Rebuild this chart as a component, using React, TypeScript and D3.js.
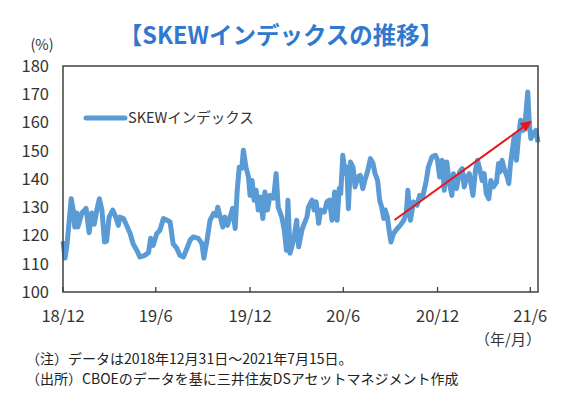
import React, { useEffect, useRef } from 'react';
import * as d3 from 'd3';

// SKEW index (2018/12/31 - 2021/7/15)
const dates = [
  '2018-12-31', '2019-01-04', '2019-01-08', '2019-01-16', '2019-01-20', '2019-01-23', '2019-01-27', '2019-01-29',
  '2019-02-06', '2019-02-14', '2019-02-20', '2019-02-25', '2019-03-02', '2019-03-07', '2019-03-12', '2019-03-17',
  '2019-03-22', '2019-03-26', '2019-03-31', '2019-04-07', '2019-04-12', '2019-04-18', '2019-04-21', '2019-04-28',
  '2019-05-04', '2019-05-11', '2019-05-17', '2019-05-24', '2019-05-30', '2019-06-09', '2019-06-16', '2019-06-20',
  '2019-06-25', '2019-07-02', '2019-07-08', '2019-07-15', '2019-07-22', '2019-07-28', '2019-08-03', '2019-08-10',
  '2019-08-16', '2019-08-23', '2019-08-30', '2019-09-05', '2019-09-11', '2019-09-21', '2019-09-28', '2019-10-02',
  '2019-10-08', '2019-10-14', '2019-10-21', '2019-10-26', '2019-10-29', '2019-11-03', '2019-11-08', '2019-11-12',
  '2019-11-17', '2019-11-22', '2019-11-27', '2019-12-02', '2019-12-06', '2019-12-10', '2019-12-15', '2019-12-18',
  '2019-12-23', '2019-12-28', '2019-12-31', '2020-01-04', '2020-01-08', '2020-01-12', '2020-01-16', '2020-01-20',
  '2020-01-25', '2020-01-29', '2020-02-03', '2020-02-08', '2020-02-15', '2020-02-20', '2020-02-24', '2020-03-02',
  '2020-03-07', '2020-03-11', '2020-03-14', '2020-03-18', '2020-03-25', '2020-03-31', '2020-04-04', '2020-04-10',
  '2020-04-15', '2020-04-20', '2020-04-23', '2020-04-30', '2020-05-04', '2020-05-08', '2020-05-13', '2020-05-17',
  '2020-05-24', '2020-05-29', '2020-06-03', '2020-06-08', '2020-06-13', '2020-06-18', '2020-06-22', '2020-06-25',
  '2020-06-29', '2020-07-04', '2020-07-07', '2020-07-10', '2020-07-14', '2020-07-19', '2020-07-23', '2020-07-28',
  '2020-08-02', '2020-08-07', '2020-08-12', '2020-08-17', '2020-08-22', '2020-08-27', '2020-08-31', '2020-09-05',
  '2020-09-09', '2020-09-13', '2020-09-17', '2020-09-20', '2020-09-24', '2020-09-28', '2020-10-01', '2020-10-06',
  '2020-10-13', '2020-10-19', '2020-10-26', '2020-10-31', '2020-11-03', '2020-11-08', '2020-11-14', '2020-11-21',
  '2020-11-26', '2020-12-02', '2020-12-09', '2020-12-13', '2020-12-20', '2020-12-27', '2020-12-31', '2021-01-04',
  '2021-01-09', '2021-01-13', '2021-01-18', '2021-01-23', '2021-01-28', '2021-01-31', '2021-02-06', '2021-02-12',
  '2021-02-17', '2021-02-21', '2021-02-26', '2021-03-03', '2021-03-10', '2021-03-15', '2021-03-19', '2021-03-23',
  '2021-03-28', '2021-04-01', '2021-04-05', '2021-04-10', '2021-04-14', '2021-04-19', '2021-04-25', '2021-04-29',
  '2021-05-02', '2021-05-06', '2021-05-10', '2021-05-16', '2021-05-19', '2021-05-22', '2021-05-25', '2021-05-30',
  '2021-06-03', '2021-06-07', '2021-06-11', '2021-06-16', '2021-06-20', '2021-06-25', '2021-06-28', '2021-07-01',
  '2021-07-06', '2021-07-11', '2021-07-15',
];

const skew = [
  118, 112, 117, 133, 129, 123, 128, 123,
  128, 129.6, 121, 128, 124, 129, 133, 129,
  117.7, 118, 126.5, 129, 127, 123.6, 126.5, 126,
  123.6, 120.7, 117, 114.8, 112.4, 113, 114, 119,
  116.5, 120.7, 121.8, 126, 125.4, 124.8, 117, 115.5,
  113, 112.4, 115.5, 118.3, 119.5, 119, 117.2, 112,
  118.3, 125.4, 127.8, 127, 130, 126.5, 123, 126.5,
  123.6, 126.5, 129.6, 122.5, 136, 144.2, 143.8, 150.2,
  144.2, 140.7, 134.2, 139.5, 132.5, 136, 129, 133.6,
  126, 135.4, 129, 134.2, 133.2, 141.9, 130, 126.5,
  121.8, 114.8, 132.5, 113.7, 118.3, 125.4, 116, 121.8,
  124.3, 126.5, 130, 132.5, 129, 131.9, 124.3, 129,
  128.3, 131.9, 132.5, 125.4, 135.4, 125.4, 136.6, 134.8,
  148.4, 141.9, 144.2, 129.5, 146, 144.2, 137.2, 140.7,
  141.3, 136.6, 140.1, 143.1, 147.2, 145.5, 141.9, 139.5,
  132.5, 130, 126, 129, 126.5, 121.2, 117.7, 120.7,
  122.4, 123.6, 125.4, 127.8, 136, 125.4, 131.9, 130.7,
  134.2, 133.6, 139.5, 144.2, 147.8, 148.4, 146.6, 140.7,
  146.6, 136, 146, 138.4, 134.2, 141.9, 136.6, 142.5,
  143.7, 137.2, 140.7, 141.9, 134.2, 143.1, 146.6, 143.7,
  139.5, 141.9, 134.8, 133, 139.5, 137.2, 138.9, 145.5,
  142.5, 146.6, 143.7, 140.7, 138.4, 144.8, 149, 155.5,
  146.6, 154.9, 160.8, 157.2, 160.2, 170.8, 159.6, 154.3,
  156.1, 157.2, 153,
];

const yTicks = [100, 110, 120, 130, 140, 150, 160, 170, 180];
const xTickDates = ['2018-12-31', '2019-06-30', '2019-12-31', '2020-06-30', '2020-12-31', '2021-06-30'];
const xTickLabels = ['18/12', '19/6', '19/12', '20/6', '20/12', '21/6'];

// trend arrow drawn on the chart
const arrowFrom = { date: '2020-10-08', value: 125.5 };
const arrowTo = { date: '2021-07-01', value: 160.3 };

const titleText = '【SKEWインデックスの推移】';
const legendText = 'SKEWインデックス';
const notes = [
  '（注）データは2018年12月31日～2021年7月15日。',
  '（出所）CBOEのデータを基に三井住友DSアセットマネジメント作成',
];

const W = 562;
const H = 398;
const JP = '"Meiryo", "Noto Sans CJK JP", "Noto Sans", sans-serif';

export default function App() {
  const svgRef = useRef<SVGSVGElement>(null);

  useEffect(() => {
    if (!svgRef.current) return;
    const svg = d3.select(svgRef.current);
    svg.selectAll('*').remove();

    const margin = { top: 66, right: 24, bottom: 106, left: 63 };
    const cw = W - margin.left - margin.right;
    const ch = H - margin.top - margin.bottom;
    const parse = d3.timeParse('%Y-%m-%d');
    const data = dates.map((d, i) => ({ date: parse(d)!, value: skew[i] }));

    const x = d3.scaleTime()
      .domain([parse(dates[0])!, parse(dates[dates.length - 1])!])
      .range([0, cw]);
    const y = d3.scaleLinear().domain([100, 180]).range([ch, 0]);

    // title
    svg.append('text')
      .attr('x', W / 2).attr('y', 44)
      .attr('text-anchor', 'middle')
      .attr('font-family', JP).attr('font-weight', 'bold')
      .attr('font-size', 23.5).attr('fill', '#3079cf')
      .text(titleText);

    svg.append('text')
      .attr('x', 42).attr('y', 50)
      .attr('text-anchor', 'middle')
      .attr('font-family', JP).attr('font-size', 14.5).attr('fill', '#333')
      .text('(%)');

    const g = svg.append('g').attr('transform', `translate(${margin.left},${margin.top})`);

    // y labels
    g.append('g')
      .selectAll('text')
      .data(yTicks)
      .enter().append('text')
      .attr('x', -14)
      .attr('y', d => y(d))
      .attr('dy', '0.36em')
      .attr('text-anchor', 'end')
      .attr('font-family', JP).attr('font-size', 16.5).attr('fill', '#333')
      .text(d => d);

    // x ticks + labels
    const xt = xTickDates.map((d, i) => ({ date: parse(d)!, label: xTickLabels[i] }));
    g.append('g')
      .selectAll('line')
      .data(xt)
      .enter().append('line')
      .attr('x1', d => x(d.date)).attr('x2', d => x(d.date))
      .attr('y1', ch).attr('y2', ch - 5)
      .attr('stroke', '#404040').attr('stroke-width', 1.3);

    g.append('g')
      .selectAll('text')
      .data(xt)
      .enter().append('text')
      .attr('x', d => x(d.date))
      .attr('y', ch + 30)
      .attr('text-anchor', 'middle')
      .attr('font-family', JP).attr('font-size', 16.5).attr('fill', '#333')
      .text(d => d.label);

    svg.append('text')
      .attr('x', 508).attr('y', 345)
      .attr('text-anchor', 'middle')
      .attr('font-family', JP).attr('font-size', 15).attr('fill', '#333')
      .text('（年/月）');

    // series
    const line = d3.line<{ date: Date; value: number }>()
      .x(d => x(d.date))
      .y(d => y(d.value));

    g.append('path')
      .datum(data)
      .attr('d', line)
      .attr('fill', 'none')
      .attr('stroke', '#5b9bd5')
      .attr('stroke-width', 5)
      .attr('stroke-linejoin', 'round');

    // trend arrow
    svg.append('defs').append('marker')
      .attr('id', 'arrowHead')
      .attr('viewBox', '0 0 10 10')
      .attr('refX', 9).attr('refY', 5)
      .attr('markerWidth', 5.5).attr('markerHeight', 5.5)
      .attr('markerUnits', 'strokeWidth')
      .attr('orient', 'auto')
      .append('path')
      .attr('d', 'M0,0 L10,5 L0,10 z')
      .attr('fill', '#e8141c');

    g.append('line')
      .attr('x1', x(parse(arrowFrom.date)!)).attr('y1', y(arrowFrom.value))
      .attr('x2', x(parse(arrowTo.date)!)).attr('y2', y(arrowTo.value))
      .attr('stroke', '#e8141c').attr('stroke-width', 2)
      .attr('marker-end', 'url(#arrowHead)');

    // frame
    g.append('rect')
      .attr('x', 0).attr('y', 0)
      .attr('width', cw).attr('height', ch)
      .attr('fill', 'none')
      .attr('stroke', '#404040').attr('stroke-width', 1.5);

    // legend
    g.append('line')
      .attr('x1', 23).attr('x2', 62)
      .attr('y1', 52).attr('y2', 52)
      .attr('stroke', '#5b9bd5').attr('stroke-width', 5)
      .attr('stroke-linecap', 'round');
    g.append('text')
      .attr('x', 65).attr('y', 52)
      .attr('dy', '0.36em')
      .attr('font-family', JP).attr('font-size', 14.5).attr('fill', '#333')
      .text(legendText);

    // notes
    svg.selectAll('.note')
      .data(notes)
      .enter().append('text')
      .attr('class', 'note')
      .attr('x', 26)
      .attr('y', (d, i) => 364 + i * 20)
      .attr('font-family', JP).attr('font-size', 14).attr('fill', '#222')
      .text(d => d);
  }, []);

  return (
    <div style={{ position: 'absolute', left: 0, top: 0, width: W, height: H, background: '#fff' }}>
      <svg ref={svgRef} width={W} height={H} />
    </div>
  );
}
